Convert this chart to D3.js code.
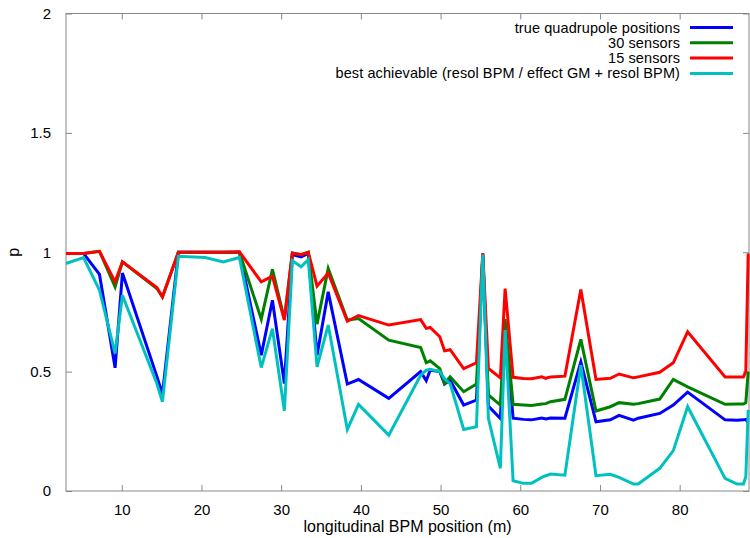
<!DOCTYPE html>
<html>
<head>
<meta charset="utf-8">
<script src="https://cdn.jsdelivr.net/npm/d3@7"></script>
<style>
  body { margin: 0; background: #fff; }
  svg { font-family: 'Liberation Sans', Arial, sans-serif; }
</style>
</head>
<body>
<svg id="chart" width="750" height="538"></svg>
<script>
const positions = [3.0, 5.2, 7.2, 9.16, 10.08, 14.4, 15.1, 17.1, 20.45, 22.75, 24.76, 27.5, 28.9, 30.4, 31.4, 32.5, 33.4, 34.5, 35.9, 38.3, 39.7, 43.5, 47.5, 48.2, 48.7, 49.9, 50.5, 51.2, 52.9, 54.5, 55.3, 56.0, 57.5, 58.1, 59.1, 60.4, 61.4, 62.7, 63.2, 63.8, 65.6, 67.6, 69.5, 71.3, 72.4, 74.2, 74.8, 77.5, 79.2, 81.0, 85.7, 87.2, 88.0, 88.3, 88.6];

const truePositions = [0.995, 0.995, 0.907, 0.516, 0.913, 0.48, 0.406, 1.0, 1.0, 1.0, 1.0, 0.569, 0.799, 0.45, 0.99, 0.98, 0.995, 0.569, 0.834, 0.448, 0.467, 0.388, 0.5, 0.462, 0.506, 0.5, 0.448, 0.464, 0.36, 0.381, 0.99, 0.356, 0.304, 0.70, 0.305, 0.30, 0.298, 0.306, 0.302, 0.306, 0.305, 0.541, 0.29, 0.298, 0.317, 0.297, 0.305, 0.325, 0.36, 0.414, 0.298, 0.296, 0.298, 0.30, 0.285];

const sensors30 = [0.995, 0.995, 1.004, 0.855, 0.96, 0.848, 0.813, 1.0, 1.0, 1.0, 1.0, 0.72, 0.928, 0.72, 0.997, 0.99, 1.0, 0.699, 0.932, 0.716, 0.722, 0.632, 0.601, 0.537, 0.545, 0.513, 0.45, 0.478, 0.416, 0.448, 0.99, 0.402, 0.36, 0.72, 0.363, 0.36, 0.358, 0.364, 0.366, 0.374, 0.384, 0.635, 0.335, 0.353, 0.37, 0.363, 0.366, 0.385, 0.467, 0.436, 0.363, 0.364, 0.364, 0.37, 0.50];

const sensors15 = [0.995, 0.995, 1.004, 0.876, 0.96, 0.852, 0.813, 1.0, 1.0, 1.0, 1.002, 0.876, 0.90, 0.716, 0.997, 0.99, 1.0, 0.858, 0.913, 0.711, 0.735, 0.695, 0.718, 0.681, 0.685, 0.646, 0.587, 0.592, 0.513, 0.537, 0.997, 0.513, 0.474, 0.848, 0.476, 0.471, 0.47, 0.478, 0.472, 0.478, 0.481, 0.844, 0.467, 0.472, 0.49, 0.474, 0.478, 0.497, 0.537, 0.667, 0.478, 0.478, 0.478, 0.50, 0.995];

const bestAchievable = [0.953, 0.978, 0.841, 0.576, 0.82, 0.45, 0.374, 0.983, 0.978, 0.959, 0.978, 0.517, 0.68, 0.336, 0.964, 0.939, 0.969, 0.52, 0.695, 0.258, 0.363, 0.234, 0.485, 0.506, 0.51, 0.5, 0.47, 0.45, 0.258, 0.269, 0.99, 0.304, 0.095, 0.674, 0.043, 0.032, 0.032, 0.057, 0.064, 0.071, 0.066, 0.527, 0.064, 0.07, 0.057, 0.029, 0.029, 0.095, 0.169, 0.353, 0.053, 0.029, 0.029, 0.06, 0.34];

const seriesNames = ['true quadrupole positions', '30 sensors', '15 sensors', 'best achievable (resol BPM / effect GM + resol BPM)'];
const seriesColors = ['#0000ff', '#008000', '#ff0000', '#00c0c0'];
const xTicks = [10, 20, 30, 40, 50, 60, 70, 80];
const yTicks = [0, 0.5, 1, 1.5, 2];

const margin = { top: 13.5, right: 1, bottom: 47, left: 66 };
const w = 750;
const h = 538;

const svg = d3.select('#chart');

const x = d3.scaleLinear().domain([3.0, 88.7]).range([margin.left, w - margin.right]);
const y = d3.scaleLinear().domain([0, 2]).range([h - margin.bottom, margin.top]);

const tickColor = '#888';
const tickLen = 6;

// ticks (mirrored on all sides like gnuplot)
const xAxisB = d3.axisBottom(x).tickValues(xTicks).tickSizeInner(-tickLen).tickSizeOuter(0).tickPadding(13);
const xAxisT = d3.axisTop(x).tickValues(xTicks).tickSizeInner(-tickLen).tickSizeOuter(0).tickFormat('');
const yAxisL = d3.axisLeft(y).tickValues(yTicks).tickSizeInner(-tickLen).tickSizeOuter(0).tickPadding(15).tickFormat(d3.format('~g'));
const yAxisR = d3.axisRight(y).tickValues(yTicks).tickSizeInner(-tickLen).tickSizeOuter(0).tickFormat('');

function styleAxis(g) {
  g.select('.domain').remove();
  g.selectAll('.tick line').attr('stroke', tickColor);
  g.selectAll('.tick text').attr('fill', '#000').style('font-size', '15px');
}

svg.append('g').attr('transform', `translate(0,${h - margin.bottom})`).call(xAxisB).call(styleAxis);
svg.append('g').attr('transform', `translate(0,${margin.top})`).call(xAxisT).call(styleAxis);
svg.append('g').attr('transform', `translate(${margin.left},0)`).call(yAxisL).call(styleAxis);
svg.append('g').attr('transform', `translate(${w - margin.right},0)`).call(yAxisR).call(styleAxis);

// border
svg.append('rect')
  .attr('x', margin.left)
  .attr('y', margin.top)
  .attr('width', w - margin.right - margin.left)
  .attr('height', h - margin.bottom - margin.top)
  .attr('fill', 'none')
  .attr('stroke', tickColor)
  .attr('stroke-width', 1);

// axis titles
svg.append('text')
  .attr('x', (margin.left + w - margin.right) / 2)
  .attr('y', 532)
  .attr('text-anchor', 'middle')
  .style('font-size', '16px')
  .text('longitudinal BPM position (m)');

svg.append('text')
  .attr('transform', `translate(19,${y(1)}) rotate(-90)`)
  .attr('text-anchor', 'middle')
  .style('font-size', '16px')
  .text('p');

// lines
const allSeries = [truePositions, sensors30, sensors15, bestAchievable];
const line = d3.line()
  .x((d, i) => x(positions[i]))
  .y((d) => y(d));

svg.selectAll('.series')
  .data(allSeries)
  .enter()
  .append('path')
  .attr('class', 'series')
  .attr('d', (d) => line(d))
  .attr('fill', 'none')
  .attr('stroke', (d, i) => seriesColors[i])
  .attr('stroke-width', 3)
  .attr('stroke-linejoin', 'miter');

// legend
const legend = svg.append('g').attr('class', 'legend');
const rows = legend.selectAll('.legend-row')
  .data(seriesNames)
  .enter()
  .append('g')
  .attr('class', 'legend-row')
  .attr('transform', (d, i) => `translate(0,${27.5 + i * 15.3})`);

rows.append('text')
  .attr('x', 680)
  .attr('y', 5)
  .attr('text-anchor', 'end')
  .style('font-size', '14.5px')
  .style('letter-spacing', '0.1px')
  .text((d) => d);

rows.append('line')
  .attr('x1', 690)
  .attr('x2', 733)
  .attr('y1', 0)
  .attr('y2', 0)
  .attr('stroke', (d, i) => seriesColors[i])
  .attr('stroke-width', 3);
</script>
</body>
</html>
